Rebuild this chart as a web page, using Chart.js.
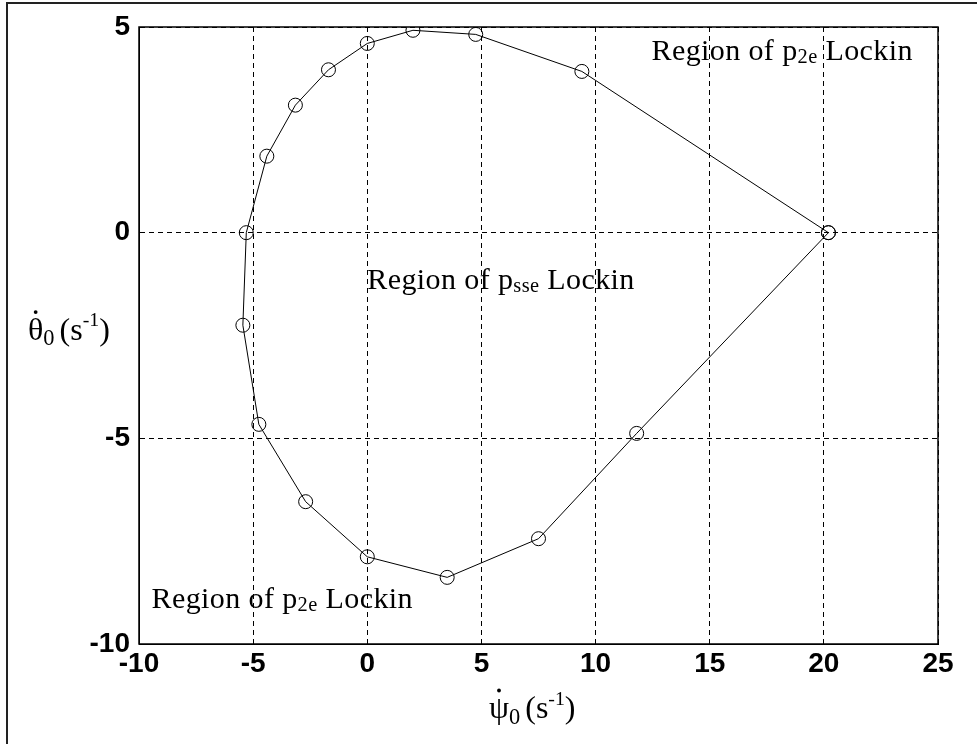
<!DOCTYPE html>
<html>
<head>
<meta charset="utf-8">
<script src="https://cdn.jsdelivr.net/npm/chart.js@4/dist/chart.umd.min.js"></script>
<style>
  html, body { margin: 0; padding: 0; background: #fff; }
  canvas { display: block; }
</style>
</head>
<body>
<canvas id="chart" width="977" height="744" style="width:977px;height:744px"></canvas>
<script>
// Boundary of the p_sse lock-in region: yaw rate (psi dot) vs pitch rate (theta dot), s^-1
const psiDot   = [20.2, 9.4, 4.75, 2.0, 0.0, -1.7, -3.15, -4.4, -5.3, -5.45, -4.75, -2.7, 0.0, 3.5, 7.5, 11.8, 20.2];
const thetaDot = [0.0, 3.92, 4.82, 4.92, 4.6, 3.96, 3.1, 1.86, 0.0, -2.25, -4.66, -6.54, -7.88, -8.38, -7.44, -4.88, 0.0];

const xTicks = [-10, -5, 0, 5, 10, 15, 20, 25];
const yTicks = [-10, -5, 0, 5];

const regionText = 'Region of p';
const regionTail = ' Lockin';
const outerSub = '2e';
const innerSub = 'sse';

const SERIF = '"Liberation Serif", "Times New Roman", serif';
const SANS = '"Liberation Sans", Arial, sans-serif';

// draw a run of text pieces (normal / sub / super), left-aligned at (x, y) baseline
function drawRich(ctx, x, y, base, parts, spacing) {
  let cx = x;
  ctx.letterSpacing = (spacing || 0) + 'px';
  for (const p of parts) {
    const size = base * (p.s || 1);
    ctx.font = size + 'px ' + SERIF;
    const w = ctx.measureText(p.t).width;
    if (p.gap) cx += p.gap;
    ctx.fillText(p.t, cx, y + (p.dy || 0) * base);
    if (p.dot) {
      ctx.beginPath();
      ctx.arc(cx + w / 2, y - p.dot * base, base * 0.06, 0, Math.PI * 2);
      ctx.fill();
    }
    cx += w;
  }
  ctx.letterSpacing = '0px';
  return cx - x;
}

const decorations = {
  id: 'decorations',
  afterDraw(chart) {
    const { ctx, chartArea: a, scales: { x, y } } = chart;
    ctx.save();

    // axes box
    ctx.strokeStyle = '#000';
    ctx.lineWidth = 1.5;
    ctx.setLineDash([]);
    ctx.strokeRect(a.left, a.top, a.right - a.left, a.bottom - a.top);

    // figure frame (top and left edges)
    ctx.strokeStyle = '#222';
    ctx.lineWidth = 2;
    ctx.beginPath();
    ctx.moveTo(7, 744);
    ctx.lineTo(7, 3);
    ctx.lineTo(977, 3);
    ctx.stroke();

    ctx.fillStyle = '#000';
    ctx.textAlign = 'left';
    ctx.textBaseline = 'alphabetic';

    const region = (px, py, sub) => drawRich(ctx, px, py, 30, [
      { t: regionText },
      { t: sub, s: 0.68, dy: 0.1 },
      { t: regionTail }
    ], 0.4);
    region(x.getPixelForValue(12.45), y.getPixelForValue(4.2), outerSub);
    region(x.getPixelForValue(0.0), y.getPixelForValue(-1.38), innerSub);
    region(x.getPixelForValue(-9.45), y.getPixelForValue(-9.12), outerSub);

    // x-axis title: psi-dot_0 (s^-1)
    drawRich(ctx, a.left + 350, a.bottom + 74, 32, [
      { t: '\u03C8', dot: 0.86 },
      { t: '0', s: 0.7, dy: 0.18 },
      { t: '(s', gap: 5 },
      { t: '-1', s: 0.62, dy: -0.42 },
      { t: ')' }
    ]);

    // y-axis title: theta-dot_0 (s^-1)
    drawRich(ctx, 28, y.getPixelForValue(-2.6), 32, [
      { t: '\u03B8', dot: 0.86 },
      { t: '0', s: 0.7, dy: 0.18 },
      { t: '(s', gap: 5 },
      { t: '-1', s: 0.62, dy: -0.42 },
      { t: ')' }
    ]);

    ctx.restore();
  }
};

new Chart(document.getElementById('chart'), {
  type: 'scatter',
  data: {
    datasets: [{
      data: psiDot.map((v, i) => ({ x: v, y: thetaDot[i] })),
      showLine: true,
      borderColor: '#000',
      borderWidth: 1,
      pointRadius: 7,
      pointHoverRadius: 7,
      pointBorderWidth: 1,
      pointBorderColor: '#000',
      pointBackgroundColor: 'rgba(0,0,0,0)',
      tension: 0
    }]
  },
  options: {
    responsive: false,
    animation: false,
    events: [],
    layout: { padding: { top: 27, right: 39, left: 0, bottom: 0 } },
    plugins: { legend: { display: false }, tooltip: { enabled: false } },
    scales: {
      x: {
        type: 'linear',
        min: xTicks[0],
        max: xTicks[xTicks.length - 1],
        afterFit(s) { s.height = 100; },
        afterBuildTicks(s) { s.ticks = xTicks.map(v => ({ value: v })); },
        ticks: {
          color: '#000',
          padding: 3,
          font: { family: SANS, size: 28, weight: 'bold' },
          maxRotation: 0
        },
        grid: { color: '#000', lineWidth: 1, drawTicks: false },
        border: { display: true, color: '#000', width: 1, dash: [5, 4] }
      },
      y: {
        type: 'linear',
        min: yTicks[0],
        max: yTicks[yTicks.length - 1],
        afterFit(s) { s.width = 139; },
        afterBuildTicks(s) { s.ticks = yTicks.map(v => ({ value: v })); },
        ticks: {
          color: '#000',
          padding: 9,
          font: { family: SANS, size: 28, weight: 'bold' }
        },
        grid: { color: '#000', lineWidth: 1, drawTicks: false },
        border: { display: true, color: '#000', width: 1, dash: [5, 4] }
      }
    }
  },
  plugins: [decorations]
});
</script>
</body>
</html>
